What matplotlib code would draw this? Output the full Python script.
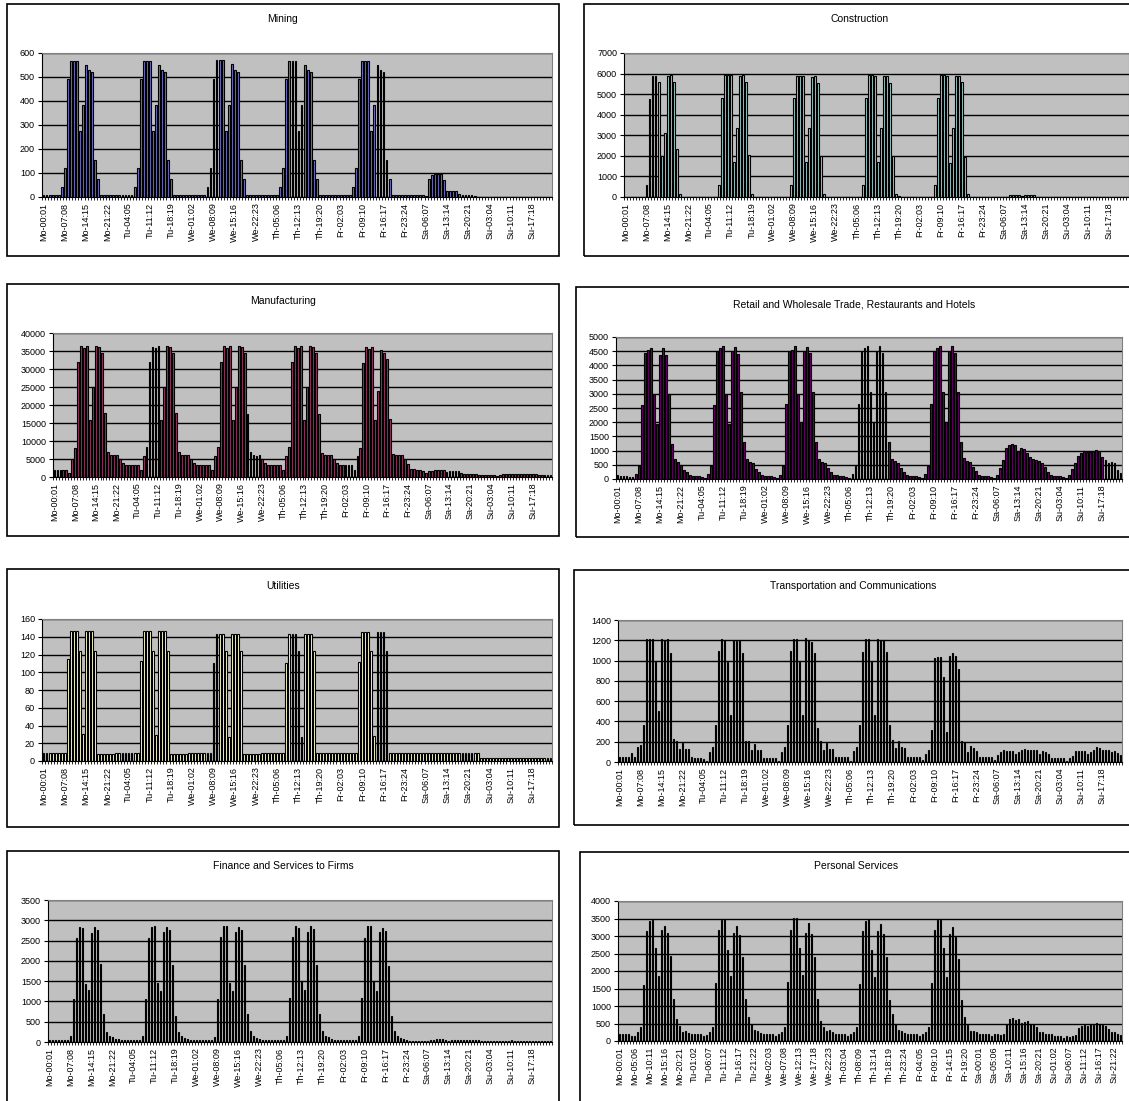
import matplotlib
matplotlib.use('Agg')
import matplotlib.pyplot as plt
from matplotlib.patches import Rectangle
from matplotlib.ticker import MultipleLocator, FixedLocator
import numpy as np

plt.rcParams['font.family'] = ['Liberation Sans', 'DejaVu Sans']

days = ['Mo', 'Tu', 'We', 'Th', 'Fr', 'Sa', 'Su']

# hourly values, one row per day (Mo .. Su)
mining = [
    7, 7, 7, 7, 7, 7, 40, 120, 490, 565, 565, 565, 275, 385, 550, 530, 520, 155, 75, 7, 7, 7, 7, 7,
    7, 7, 7, 7, 7, 7, 40, 120, 490, 565, 565, 565, 275, 385, 550, 530, 520, 155, 75, 7, 7, 7, 7, 7,
    7, 7, 7, 7, 7, 7, 40, 120, 490, 570, 570, 570, 275, 385, 555, 530, 520, 155, 75, 7, 7, 7, 7, 7,
    7, 7, 7, 7, 7, 7, 40, 120, 490, 565, 565, 565, 275, 385, 550, 530, 520, 155, 75, 7, 7, 7, 7, 7,
    7, 7, 7, 7, 7, 7, 40, 120, 490, 565, 565, 565, 275, 385, 550, 530, 520, 155, 75, 7, 7, 7, 7, 7,
    7, 7, 7, 7, 7, 7, 5, 75, 90, 95, 95, 95, 70, 25, 25, 25, 25, 12, 7, 7, 7, 7, 5, 2,
    1, 1, 1, 1, 1, 1, 1, 1, 1, 1, 1, 1, 1, 1, 1, 1, 1, 1, 1, 1, 1, 1, 1, 1,
]
construction = [
    0, 0, 0, 0, 0, 0, 0, 600, 4750, 5900, 5900, 5600, 2000, 3100, 5900, 5950, 5600, 2350, 150, 0, 0, 0, 0, 0,
    0, 0, 0, 0, 0, 0, 0, 600, 4800, 5950, 5950, 5950, 1700, 3350, 5900, 5950, 5600, 2050, 150, 0, 0, 0, 0, 0,
    0, 0, 0, 0, 0, 0, 0, 600, 4800, 5900, 5900, 5900, 1700, 3350, 5850, 5900, 5550, 2000, 150, 0, 0, 0, 0, 0,
    0, 0, 0, 0, 0, 0, 0, 600, 4800, 5950, 5950, 5900, 1700, 3350, 5900, 5900, 5550, 2000, 150, 50, 0, 0, 0, 0,
    0, 0, 0, 0, 0, 0, 0, 600, 4800, 5950, 5950, 5900, 1650, 3350, 5900, 5900, 5600, 1950, 150, 0, 0, 0, 0, 0,
    0, 0, 0, 0, 0, 0, 0, 0, 100, 100, 100, 100, 40, 100, 100, 100, 100, 0, 0, 0, 0, 0, 0, 0,
    0, 0, 0, 0, 0, 0, 0, 0, 0, 0, 0, 0, 0, 0, 0, 0, 0, 0, 0, 0, 0, 0, 0, 0,
]
manufacturing = [
    2000, 2000, 2000, 2000, 2000, 1200, 5000, 8000, 32000, 36300, 35800, 36300, 15800, 25000, 36500, 36000, 34500, 17700, 7000, 6200, 6200, 6200, 5000, 3800,
    3300, 3300, 3200, 3200, 3200, 2000, 5700, 8200, 32000, 36200, 35800, 36300, 15800, 25000, 36300, 36000, 34500, 17700, 7000, 6200, 6200, 6200, 5000, 3900,
    3400, 3300, 3200, 3200, 3200, 2000, 5700, 8200, 32000, 36300, 35800, 36300, 15800, 25000, 36500, 36000, 34500, 17500, 7000, 6200, 5900, 6200, 5000, 3900,
    3400, 3300, 3200, 3200, 3200, 2000, 5700, 8200, 32000, 36300, 35800, 36300, 15700, 25000, 36500, 36000, 34500, 17500, 6800, 6200, 6000, 6200, 5000, 3900,
    3400, 3200, 3200, 3200, 3200, 2000, 5700, 8000, 31700, 36000, 35500, 36000, 15900, 24000, 35200, 34500, 32700, 16200, 6400, 6000, 6000, 6200, 5000, 3700,
    2100, 2100, 1900, 1900, 1800, 1100, 1600, 1600, 1900, 1900, 1900, 1900, 1400, 1600, 1600, 1600, 1600, 1100, 900, 900, 900, 900, 900, 600,
    600, 600, 600, 500, 500, 400, 600, 700, 800, 800, 800, 800, 800, 800, 800, 800, 800, 800, 700, 600, 600, 600, 600, 500,
]
retail = [
    150, 100, 100, 100, 80, 70, 180, 450, 2600, 4450, 4550, 4600, 3000, 1950, 4350, 4600, 4350, 3000, 1250, 700, 600, 500, 330, 260,
    130, 100, 100, 100, 60, 30, 180, 450, 2600, 4500, 4600, 4700, 3000, 1950, 4500, 4650, 4400, 3050, 1300, 700, 600, 550, 350, 230,
    150, 100, 100, 100, 60, 30, 150, 450, 2650, 4500, 4550, 4700, 3000, 2000, 4500, 4650, 4450, 3050, 1300, 700, 600, 550, 400, 250,
    150, 150, 100, 100, 60, 30, 180, 450, 2650, 4500, 4600, 4700, 3050, 2000, 4500, 4700, 4450, 3050, 1300, 700, 650, 580, 400, 260,
    150, 100, 100, 100, 60, 30, 180, 450, 2650, 4500, 4600, 4700, 3050, 2000, 4500, 4700, 4450, 3050, 1300, 750, 650, 600, 420, 280,
    150, 120, 100, 100, 60, 40, 130, 400, 680, 1100, 1180, 1250, 1200, 1000, 1100, 1060, 900, 780, 700, 660, 620, 580, 430, 260,
    150, 120, 100, 100, 60, 40, 130, 350, 580, 800, 900, 980, 950, 950, 1000, 1030, 980, 780, 680, 580, 600, 560, 320, 220,
]
utilities = [
    9, 9, 9, 9, 9, 9, 9, 9, 115, 147, 147, 147, 124, 30, 147, 147, 147, 124, 8, 8, 8, 8, 8, 8,
    9, 9, 9, 9, 9, 9, 9, 9, 113, 146, 146, 146, 124, 29, 146, 146, 146, 124, 8, 8, 8, 8, 8, 8,
    9, 9, 9, 9, 9, 9, 9, 9, 110, 143, 143, 143, 124, 27, 143, 143, 143, 124, 8, 8, 8, 8, 8, 8,
    9, 9, 9, 9, 9, 9, 9, 9, 110, 143, 143, 143, 124, 27, 143, 143, 143, 124, 9, 9, 9, 9, 9, 9,
    9, 9, 9, 9, 9, 9, 9, 9, 112, 145, 145, 145, 124, 28, 145, 145, 145, 124, 9, 9, 9, 9, 9, 9,
    9, 9, 9, 9, 9, 9, 9, 9, 9, 9, 9, 9, 9, 9, 9, 9, 9, 9, 9, 9, 9, 9, 9, 9,
    3, 3, 3, 3, 3, 3, 3, 3, 3, 3, 3, 3, 3, 3, 3, 3, 3, 3, 3, 3, 3, 3, 3, 3,
]
transport = [
    45, 45, 45, 45, 85, 50, 150, 170, 360, 1210, 1210, 1210, 1000, 500, 1210, 1200, 1210, 1070, 230, 210, 130, 190, 130, 130,
    45, 40, 35, 35, 30, 10, 100, 150, 360, 1090, 1210, 1200, 990, 460, 1200, 1190, 1200, 1070, 210, 210, 120, 180, 120, 120,
    40, 40, 40, 40, 40, 10, 100, 150, 360, 1090, 1210, 1210, 1000, 460, 1220, 1200, 1180, 1070, 340, 210, 120, 190, 130, 130,
    45, 45, 45, 45, 45, 10, 110, 150, 360, 1080, 1210, 1210, 1000, 460, 1210, 1200, 1200, 1080, 360, 220, 140, 210, 150, 140,
    45, 45, 45, 45, 45, 20, 80, 115, 320, 1030, 1040, 1040, 840, 300, 1050, 1070, 1050, 920, 210, 200, 100, 160, 140, 110,
    50, 50, 50, 50, 50, 20, 70, 100, 120, 110, 110, 110, 80, 100, 120, 130, 120, 120, 120, 120, 80, 110, 100, 80,
    40, 35, 35, 35, 35, 10, 40, 60, 110, 110, 110, 110, 80, 100, 120, 150, 140, 120, 120, 120, 100, 110, 90, 70,
]
finance = [
    45, 45, 45, 45, 45, 45, 50, 140, 1050, 2570, 2830, 2800, 1430, 1270, 2680, 2830, 2770, 1920, 680, 250, 160, 120, 80, 70,
    50, 50, 50, 50, 45, 40, 50, 140, 1070, 2570, 2830, 2850, 1450, 1250, 2720, 2830, 2770, 1900, 650, 250, 140, 110, 70, 50,
    50, 50, 50, 50, 45, 40, 50, 120, 1070, 2590, 2850, 2870, 1450, 1250, 2720, 2830, 2770, 1900, 680, 280, 160, 110, 70, 50,
    50, 50, 50, 50, 45, 40, 50, 160, 1080, 2590, 2850, 2800, 1500, 1280, 2720, 2850, 2780, 1900, 680, 280, 160, 130, 80, 60,
    50, 50, 50, 50, 45, 40, 50, 140, 1080, 2570, 2850, 2850, 1500, 1250, 2700, 2800, 2740, 1880, 640, 280, 160, 110, 80, 40,
    30, 30, 30, 30, 25, 20, 30, 40, 60, 70, 70, 70, 50, 30, 50, 50, 50, 50, 40, 40, 40, 50, 50, 40,
    30, 30, 30, 20, 20, 20, 20, 30, 30, 30, 40, 30, 30, 30, 30, 30, 30, 30, 30, 30, 30, 30, 30, 30,
]
personal = [
    200, 200, 200, 200, 140, 150, 260, 400, 1600, 3130, 3440, 3470, 2650, 1870, 3180, 3300, 3080, 2430, 1200, 630, 440, 270, 290, 240,
    200, 200, 200, 200, 130, 180, 260, 400, 1650, 3160, 3470, 3500, 2600, 1850, 3100, 3300, 3030, 2400, 1200, 680, 480, 320, 290, 230,
    200, 200, 200, 200, 130, 200, 270, 400, 1690, 3170, 3510, 3510, 2670, 1890, 3100, 3360, 3050, 2410, 1200, 580, 400, 290, 310, 260,
    200, 200, 200, 200, 130, 200, 270, 400, 1630, 3150, 3430, 3490, 2590, 1840, 3130, 3350, 3050, 2400, 1160, 760, 500, 310, 290, 230,
    200, 200, 200, 200, 130, 200, 270, 400, 1650, 3180, 3460, 3460, 2650, 1840, 3070, 3250, 2980, 2330, 1160, 680, 470, 300, 290, 270,
    200, 200, 190, 190, 140, 200, 190, 170, 200, 480, 630, 660, 600, 630, 520, 550, 580, 500, 480, 400, 270, 270, 210, 200,
    200, 150, 150, 130, 80, 130, 120, 130, 160, 380, 430, 470, 420, 500, 450, 510, 500, 450, 420, 350, 270, 260, 190, 170,
]

hour_labels = ['%s-%02d:%02d' % (d, h, h + 1) for d in days for h in range(24)]

W, H = 1129, 1101
fig = plt.figure(figsize=(W / 100, H / 100), dpi=100)

# title, data, bar colour, ymax, ystep, label step, box px, plot px, title y
panels = [
    ('Mining', mining, '#7070c8', 600, 100, 7, (7, 4, 559, 256), (42, 53, 552, 197), 19),
    ('Construction', construction, '#99cccc', 7000, 1000, 7, (584, 4, 1135, 256), (624, 53, 1129, 197), 19),
    ('Manufacturing', manufacturing, '#993366', 40000, 5000, 7, (7, 284, 559, 536), (53, 333, 552, 477), 301),
    ('Retail and Wholesale Trade, Restaurants and Hotels', retail, '#660066', 5000, 500, 7,
     (576, 287, 1133, 537), (616, 337, 1122, 479), 304),
    ('Utilities', utilities, '#ffffcc', 160, 20, 7, (7, 569, 559, 827), (42, 619, 552, 761), 586),
    ('Transportation and Communications', transport, '#ff8080', 1400, 200, 7,
     (574, 570, 1133, 825), (618, 620, 1122, 762), 586),
    ('Finance and Services to Firms', finance, '#0066cc', 3500, 500, 7, (7, 851, 559, 1110), (48, 900, 552, 1042), 866),
    ('Personal Services', personal, '#9999ff', 4000, 500, 5, (580, 852, 1133, 1110), (618, 901, 1122, 1041), 866),
]

x = np.arange(168)
for title, vals, col, ymax, ystep, lstep, box, plot, ty in panels:
    bx0, by0, bx1, by1 = box
    fig.patches.append(Rectangle((bx0 / W, 1 - by1 / H), (bx1 - bx0) / W, (by1 - by0) / H,
                                 transform=fig.transFigure, fill=False, ec='black', lw=1.2))
    fig.text((bx0 + bx1) / 2 / W, 1 - ty / H, title, ha='center', va='center', fontsize=7.5)

    px0, py0, px1, py1 = plot
    ax = fig.add_axes([px0 / W, 1 - py1 / H, (px1 - px0) / W, (py1 - py0) / H])
    ax.set_facecolor('#c0c0c0')
    ax.bar(x, vals, width=0.62, color=col, edgecolor='black', linewidth=0.8)
    ax.set_xlim(-0.5, 167.5)
    ax.set_ylim(0, ymax)
    ax.yaxis.set_major_locator(MultipleLocator(ystep))
    ax.set_axisbelow(True)
    ax.yaxis.grid(True, color='black', lw=1)
    for s in ['top', 'right']:
        ax.spines[s].set_color('#808080')
    for s in ['left', 'bottom']:
        ax.spines[s].set_color('black')
    ax.tick_params(axis='y', length=3, width=0.8, labelsize=6.5, pad=2)
    pos = list(range(0, 168, lstep))
    ax.xaxis.set_major_locator(FixedLocator(pos))
    ax.set_xticklabels([hour_labels[i] for i in pos], rotation=90)
    ax.xaxis.set_minor_locator(FixedLocator(np.arange(-0.5, 168, 1)))
    ax.tick_params(axis='x', which='major', length=0, labelsize=6.5, pad=4)
    ax.tick_params(axis='x', which='minor', length=2.5, width=0.6)

fig.savefig('out.png', dpi=100, facecolor='white')
